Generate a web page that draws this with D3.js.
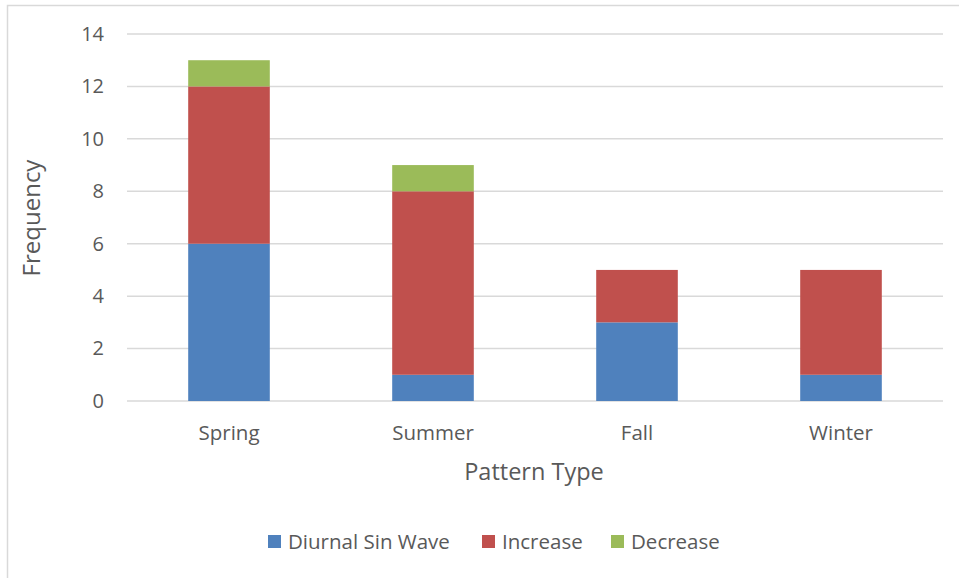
<!DOCTYPE html>
<html>
<head>
<meta charset="utf-8">
<script src="https://cdn.jsdelivr.net/npm/d3@7"></script>
<style>
  body { margin: 0; background: #fff; }
  text { font-family: "Open Sans", "Noto Sans", sans-serif; fill: #595959; }
</style>
</head>
<body>
<div id="canvas"></div>
<script>
// chart values
let seasons = ["Spring", "Summer", "Fall", "Winter"];
let diurnal = [6, 1, 3, 1];
let increase = [6, 7, 2, 4];
let decrease = [1, 1, 0, 0];
let seriesNames = ["Diurnal Sin Wave", "Increase", "Decrease"];
let seriesColors = ["#4F81BD", "#C0504D", "#9BBB59"];
let yTicks = [0, 2, 4, 6, 8, 10, 12, 14];

let W = 959, H = 578;
let margin = { top: 34, right: 16, bottom: 177, left: 127 },
  width = W - margin.left - margin.right,
  height = H - margin.top - margin.bottom;

let root = d3.select("#canvas")
  .append("svg")
  .attr("width", W)
  .attr("height", H);

// outer chart border (clipped on right/bottom like the screenshot)
root.append("rect")
  .attr("x", 7.5).attr("y", 5.5)
  .attr("width", W + 10).attr("height", H + 10)
  .attr("fill", "none")
  .attr("stroke", "#D9D9D9")
  .attr("stroke-width", 1.5);

let svg = root.append("g")
  .attr("transform", "translate(" + margin.left + "," + margin.top + ")");

let rows = seasons.map((s, i) => ({
  season: s,
  "Diurnal Sin Wave": diurnal[i],
  "Increase": increase[i],
  "Decrease": decrease[i]
}));

let xScale = d3.scaleBand().domain(seasons).range([0, width]).paddingInner(0.6).paddingOuter(0.3);
let yScale = d3.scaleLinear().domain([0, 14]).range([height, 0]);

// gridlines
svg.selectAll(".grid")
  .data(yTicks)
  .enter()
  .append("line")
  .attr("class", "grid")
  .attr("x1", 0).attr("x2", width)
  .attr("y1", d => yScale(d)).attr("y2", d => yScale(d))
  .attr("stroke", "#D9D9D9")
  .attr("stroke-width", 1.5);

// stacked bars
let stack = d3.stack().keys(seriesNames);
let colorScale = d3.scaleOrdinal().domain(seriesNames).range(seriesColors);

svg.selectAll(".layer")
  .data(stack(rows))
  .enter()
  .append("g")
  .attr("class", "layer")
  .attr("fill", d => colorScale(d.key))
  .selectAll("rect")
  .data(d => d)
  .enter()
  .append("rect")
  .attr("x", d => xScale(d.data.season))
  .attr("width", xScale.bandwidth())
  .attr("y", d => yScale(d[1]))
  .attr("height", d => yScale(d[0]) - yScale(d[1]));

// y axis labels
let yAxis = svg.append("g")
  .call(d3.axisLeft(yScale).tickValues(yTicks).tickSize(0).tickPadding(23));
yAxis.select(".domain").remove();
yAxis.selectAll("text")
  .style("font-size", "20px")
  .attr("fill", "#595959");

// x axis labels
let xAxis = svg.append("g")
  .attr("transform", "translate(0," + height + ")")
  .call(d3.axisBottom(xScale).tickSize(0).tickPadding(24));
xAxis.select(".domain").remove();
xAxis.selectAll("text")
  .style("font-size", "20.5px")
  .attr("fill", "#595959");

// axis titles
svg.append("text")
  .attr("x", 534 - margin.left)
  .attr("y", 480 - margin.top)
  .attr("text-anchor", "middle")
  .style("font-size", "23.5px")
  .text("Pattern Type");

svg.append("text")
  .attr("transform", "translate(" + (40 - margin.left) + "," + (218 - margin.top) + ") rotate(-90)")
  .attr("text-anchor", "middle")
  .style("font-size", "24px")
  .text("Frequency");

// legend
let legendX = [268, 482, 611];
let legend = root.selectAll(".legend")
  .data(seriesNames)
  .enter()
  .append("g")
  .attr("class", "legend")
  .attr("transform", (d, i) => "translate(" + legendX[i] + ",535)");

legend.append("rect")
  .attr("width", 13)
  .attr("height", 13)
  .attr("fill", colorScale);

legend.append("text")
  .attr("x", 20)
  .attr("y", 6.5)
  .attr("dy", ".35em")
  .style("font-size", "20.5px")
  .text(d => d);
</script>
</body>
</html>
